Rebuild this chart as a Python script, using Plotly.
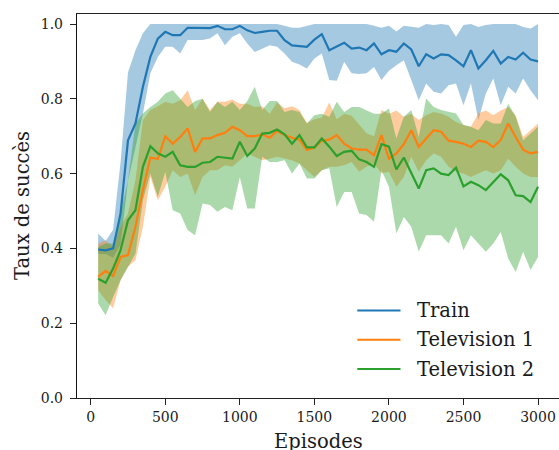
import plotly.graph_objects as go

episodes = list(range(50, 3001, 50))

train_mean = [0.397, 0.395, 0.400, 0.493, 0.689, 0.734, 0.832, 0.912, 0.961, 0.979,
              0.970, 0.970, 0.990, 0.990, 0.990, 0.989, 0.995, 0.986, 0.986, 0.995,
              0.983, 0.976, 0.979, 0.982, 0.982, 0.957, 0.943, 0.941, 0.939, 0.958,
              0.973, 0.930, 0.939, 0.950, 0.934, 0.937, 0.930, 0.948, 0.919, 0.930,
              0.926, 0.948, 0.932, 0.887, 0.919, 0.908, 0.919, 0.917, 0.903, 0.887,
              0.930, 0.881, 0.903, 0.928, 0.894, 0.912, 0.905, 0.923, 0.905, 0.900]
train_upper = [0.440, 0.420, 0.450, 0.630, 0.870, 0.930, 0.975, 1.0, 1.0, 1.0,
               1.0, 1.0, 1.0, 1.0, 1.0, 1.0, 1.0, 1.0, 1.0, 1.0,
               1.0, 1.0, 1.0, 1.0, 1.0, 0.995, 0.990, 0.990, 0.995, 1.0,
               1.0, 1.0, 0.998, 0.998, 1.0, 1.0, 1.0, 0.995, 0.990, 0.995,
               0.980, 0.995, 0.992, 0.990, 1.0, 0.997, 1.0, 0.997, 0.966, 0.997,
               1.0, 0.992, 0.997, 1.0, 1.0, 1.0, 1.0, 0.992, 0.988, 1.0]
train_lower = [0.385, 0.385, 0.375, 0.410, 0.580, 0.670, 0.760, 0.868, 0.912, 0.939,
               0.939, 0.921, 0.957, 0.957, 0.957, 0.961, 0.975, 0.943, 0.966, 0.975,
               0.948, 0.925, 0.934, 0.943, 0.939, 0.921, 0.899, 0.892, 0.881, 0.908,
               0.921, 0.850, 0.848, 0.899, 0.868, 0.866, 0.868, 0.885, 0.850, 0.875,
               0.890, 0.903, 0.850, 0.796, 0.841, 0.819, 0.814, 0.836, 0.841, 0.783,
               0.841, 0.743, 0.814, 0.854, 0.783, 0.832, 0.814, 0.854, 0.823, 0.796]

tv1_mean = [0.324, 0.340, 0.326, 0.377, 0.382, 0.458, 0.556, 0.643, 0.639, 0.700,
            0.680, 0.698, 0.721, 0.658, 0.694, 0.694, 0.703, 0.709, 0.725, 0.716,
            0.700, 0.700, 0.705, 0.696, 0.714, 0.703, 0.696, 0.691, 0.663, 0.670,
            0.688, 0.691, 0.703, 0.680, 0.667, 0.664, 0.664, 0.649, 0.703, 0.640,
            0.654, 0.679, 0.716, 0.671, 0.694, 0.716, 0.712, 0.688, 0.685, 0.680,
            0.671, 0.688, 0.685, 0.671, 0.690, 0.734, 0.698, 0.664, 0.654, 0.658]
tv1_upper = [0.413, 0.422, 0.404, 0.458, 0.493, 0.582, 0.743, 0.770, 0.780, 0.792,
             0.787, 0.796, 0.823, 0.770, 0.800, 0.770, 0.792, 0.792, 0.798, 0.787,
             0.787, 0.778, 0.780, 0.760, 0.790, 0.775, 0.780, 0.770, 0.735, 0.745,
             0.750, 0.790, 0.745, 0.760, 0.755, 0.730, 0.708, 0.700, 0.770, 0.760,
             0.769, 0.752, 0.760, 0.743, 0.756, 0.765, 0.761, 0.752, 0.738, 0.730,
             0.725, 0.761, 0.769, 0.756, 0.769, 0.778, 0.756, 0.698, 0.716, 0.734]
tv1_lower = [0.288, 0.262, 0.240, 0.315, 0.351, 0.368, 0.458, 0.591, 0.529, 0.565,
             0.609, 0.591, 0.600, 0.542, 0.591, 0.609, 0.609, 0.622, 0.618, 0.636,
             0.654, 0.645, 0.636, 0.640, 0.645, 0.640, 0.636, 0.627, 0.609, 0.591,
             0.609, 0.618, 0.618, 0.622, 0.631, 0.605, 0.618, 0.627, 0.600, 0.605,
             0.565, 0.591, 0.645, 0.605, 0.636, 0.654, 0.645, 0.618, 0.605, 0.600,
             0.591, 0.600, 0.609, 0.600, 0.609, 0.640, 0.618, 0.600, 0.591, 0.591]

tv2_mean = [0.319, 0.308, 0.346, 0.395, 0.475, 0.502, 0.618, 0.673, 0.654, 0.645,
            0.658, 0.622, 0.618, 0.618, 0.629, 0.631, 0.645, 0.643, 0.640, 0.685,
            0.647, 0.667, 0.707, 0.709, 0.718, 0.705, 0.680, 0.703, 0.670, 0.670,
            0.694, 0.672, 0.647, 0.658, 0.661, 0.638, 0.631, 0.618, 0.679, 0.672,
            0.611, 0.643, 0.600, 0.560, 0.609, 0.614, 0.600, 0.596, 0.616, 0.566,
            0.578, 0.569, 0.556, 0.578, 0.598, 0.582, 0.542, 0.540, 0.524, 0.565]
tv2_upper = [0.404, 0.413, 0.413, 0.493, 0.582, 0.734, 0.761, 0.778, 0.792, 0.814,
             0.823, 0.800, 0.778, 0.794, 0.800, 0.765, 0.792, 0.778, 0.792, 0.770,
             0.794, 0.832, 0.770, 0.794, 0.794, 0.765, 0.770, 0.765, 0.734, 0.756,
             0.760, 0.752, 0.792, 0.765, 0.778, 0.778, 0.770, 0.760, 0.760, 0.774,
             0.694, 0.752, 0.770, 0.698, 0.801, 0.778, 0.770, 0.765, 0.761, 0.730,
             0.725, 0.716, 0.743, 0.734, 0.734, 0.787, 0.752, 0.689, 0.707, 0.725]
tv2_lower = [0.253, 0.221, 0.270, 0.315, 0.351, 0.386, 0.529, 0.600, 0.538, 0.605,
             0.502, 0.493, 0.449, 0.435, 0.520, 0.516, 0.498, 0.511, 0.502, 0.590,
             0.507, 0.507, 0.645, 0.631, 0.631, 0.636, 0.600, 0.627, 0.587, 0.587,
             0.609, 0.614, 0.511, 0.551, 0.551, 0.493, 0.489, 0.471, 0.609, 0.565,
             0.440, 0.484, 0.458, 0.391, 0.435, 0.435, 0.435, 0.413, 0.458, 0.395,
             0.435, 0.413, 0.391, 0.413, 0.444, 0.373, 0.337, 0.391, 0.342, 0.377]

series_names = ["Train", "Television 1", "Television 2"]
colors = ["#1f77b4", "#ff7f0e", "#2ca02c"]
fills = ["rgba(31,119,180,0.4)", "rgba(255,127,14,0.4)", "rgba(44,160,44,0.4)"]
means = [train_mean, tv1_mean, tv2_mean]
uppers = [train_upper, tv1_upper, tv2_upper]
lowers = [train_lower, tv1_lower, tv2_lower]

x_ticks = [0, 500, 1000, 1500, 2000, 2500, 3000]
y_ticks = [0.0, 0.2, 0.4, 0.6, 0.8, 1.0]

FONT = "DejaVu Serif"
TXT = "#1a1a1a"
BIG = 19.5

fig = go.Figure()
for name, fc, up, lo in zip(series_names, fills, uppers, lowers):
    fig.add_trace(go.Scatter(
        x=episodes + episodes[::-1], y=up + lo[::-1],
        fill="toself", fillcolor=fc, line=dict(width=0),
        mode="lines", hoverinfo="skip", showlegend=False))
for name, c, m in zip(series_names, colors, means):
    fig.add_trace(go.Scatter(
        x=episodes, y=m, mode="lines", name=name,
        line=dict(color=c, width=2.2), showlegend=False))

W, H = 559, 450
ml, mr, mt, mb = 77, 0, 14, 52
pw, ph = W - ml - mr, H - mt - mb

def px_x(p):
    return (p - ml) / pw

def px_y(p):
    return (H - mb - p) / ph

# manual legend
legend_rows = [310.5, 339.75, 369.0]
for name, c, row in zip(series_names, colors, legend_rows):
    fig.add_shape(type="line", xref="paper", yref="paper",
                  x0=px_x(357.3), x1=px_x(400.5), y0=px_y(row), y1=px_y(row),
                  line=dict(color=c, width=2.2))
    fig.add_annotation(text=name, xref="paper", yref="paper",
                       x=px_x(415), y=px_y(row), xanchor="left", yanchor="middle",
                       showarrow=False, font=dict(family=FONT, size=BIG, color=TXT))

fig.add_annotation(text="Episodes", xref="paper", yref="paper",
                   x=0.5, y=px_y(441), xanchor="center", yanchor="middle",
                   showarrow=False, font=dict(family=FONT, size=BIG, color=TXT))
fig.add_annotation(text="Taux de succès", xref="paper", yref="paper",
                   x=px_x(22), y=0.5, xanchor="center", yanchor="middle",
                   textangle=-90, showarrow=False,
                   font=dict(family=FONT, size=BIG, color=TXT))

fig.update_layout(
    width=W, height=H,
    margin=dict(l=ml, r=mr, t=mt, b=mb, autoexpand=False),
    paper_bgcolor="white", plot_bgcolor="white",
    showlegend=False,
    font=dict(family=FONT, size=14, color=TXT),
)
fig.update_xaxes(
    range=[-92, -92 + pw / 0.1491],
    tickvals=x_ticks, ticktext=[str(v) for v in x_ticks],
    showgrid=False, zeroline=False,
    showline=True, linecolor="#222", linewidth=1.4, mirror=True,
    ticks="outside", ticklen=6, tickwidth=1.3, tickcolor="#222",
    tickfont=dict(family=FONT, size=14, color=TXT),
)
fig.update_yaxes(
    range=[0, ph / 374],
    tickvals=y_ticks, ticktext=[f"{v:.1f}" for v in y_ticks],
    showgrid=False, zeroline=False,
    showline=True, linecolor="#111", linewidth=1.4, mirror=False,
    ticks="outside", ticklen=6, tickwidth=1.3, tickcolor="#222",
    ticklabelstandoff=4,
    tickfont=dict(family=FONT, size=14, color=TXT),
)

fig.write_html(
    "out.html",
    config={"displayModeBar": False},
    post_script="document.body.style.margin='0';document.body.style.padding='0';"
                "document.documentElement.style.overflow='hidden';",
)
